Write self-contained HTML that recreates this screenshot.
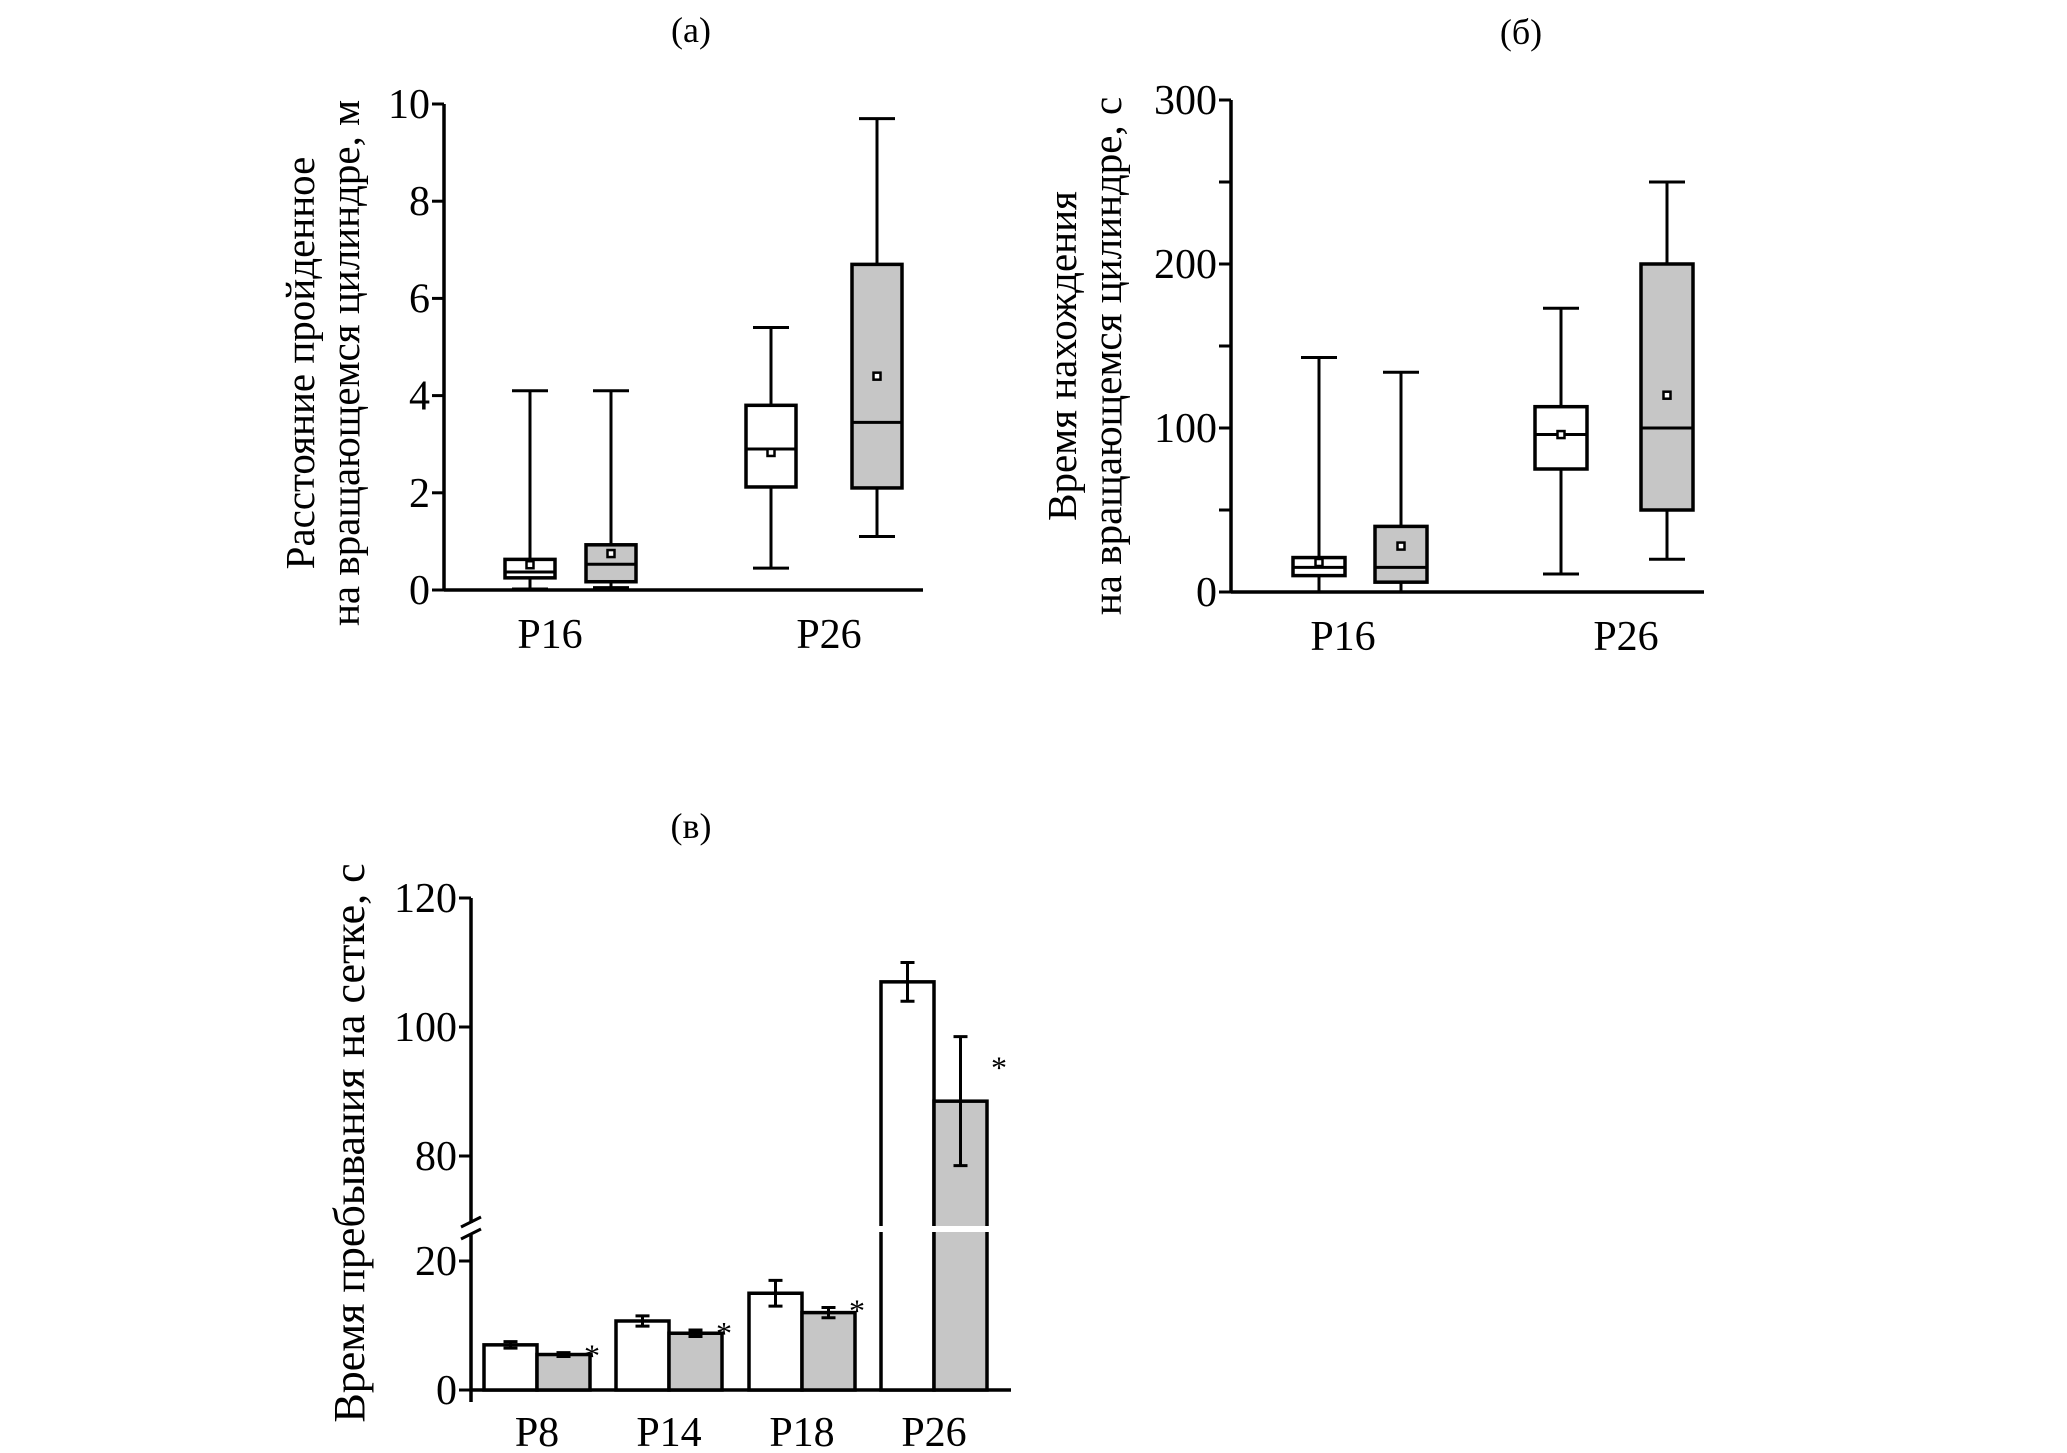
<!DOCTYPE html>
<html><head><meta charset="utf-8">
<style>
html,body{margin:0;padding:0;background:#fff;}
svg{display:block;font-family:"Liberation Serif","DejaVu Serif",serif;}
</style></head>
<body>
<svg id="chart" width="2067" height="1453" viewBox="0 0 2067 1453" xmlns="http://www.w3.org/2000/svg">
<text x="691" y="42" font-size="36" text-anchor="middle">(a)</text>
<text x="1521" y="44" font-size="36" text-anchor="middle">(б)</text>
<text x="691" y="838" font-size="36" text-anchor="middle">(в)</text>
<g id="pa"></g>
<g id="pb"></g>
<g id="pc"></g>
</svg>
<script>
// Panel (a) data
const aCategories = ["P16", "P26"];
const aMin    = [0.02, 0.05, 0.45, 1.1];
const aQ1     = [0.25, 0.17, 2.12, 2.1];
const aMedian = [0.37, 0.53, 2.9, 3.45];
const aQ3     = [0.63, 0.93, 3.8, 6.7];
const aMax    = [4.1, 4.1, 5.4, 9.7];
const aMean   = [0.52, 0.75, 2.83, 4.4];
const aTicks  = [0, 2, 4, 6, 8, 10];
// Panel (б) data
const bCategories = ["P16", "P26"];
const bMin    = [0, 0, 11, 20];
const bQ1     = [10, 6, 75, 50];
const bMedian = [15, 15, 96, 100];
const bQ3     = [21, 40, 113, 200];
const bMax    = [143, 134, 173, 250];
const bMean   = [18, 28, 96, 120];
const bTicks  = [0, 100, 200, 300];
const bMinorTicks = [50, 150, 250];
// Panel (в) data
const cCategories = ["P8", "P14", "P18", "P26"];
const cControl    = [7, 10.7, 15, 107];
const cControlErr = [0.5, 0.8, 2, 3];
const cTreated    = [5.5, 8.8, 12, 88.5];
const cTreatedErr = [0.3, 0.5, 0.8, 10];
const cTicks      = [0, 20, 80, 100, 120];

const NS = "http://www.w3.org/2000/svg";
function mk(parent, tag, attrs, text) {
  const e = document.createElementNS(NS, tag);
  for (const k in attrs) e.setAttribute(k, attrs[k]);
  if (text !== undefined) e.textContent = text;
  parent.appendChild(e);
  return e;
}
const GRAY = "#c6c6c6";
const TICKFS = 42;

function boxPanel(g, cfg, cats, mn, q1, med, q3, mx, mean, ticks, minor) {
  const y = v => cfg.y0 - (v - 0) / cfg.vmax * (cfg.y0 - cfg.yTop);
  let e = mk(g, "line", {x1: cfg.ax, y1: cfg.yTop, x2: cfg.ax, y2: cfg.y0 + 1.5, stroke: "#000", "stroke-width": 3.5});
  
  
  e = mk(g, "line", {x1: cfg.ax, y1: cfg.y0, x2: cfg.axEnd, y2: cfg.y0, stroke: "#000", "stroke-width": 3.5});
  
  
  ticks.forEach(t => {
    const tk = mk(g, "line", {x1: cfg.ax - 12, y1: y(t), x2: cfg.ax, y2: y(t), stroke: "#000", "stroke-width": 3});
    
    
    const tl = mk(g, "text", {x: cfg.ax - 14, y: y(t) + 14, "font-size": TICKFS, "text-anchor": "end"}, String(t));
    
    
  });
  (minor || []).forEach(t => {
    const tk = mk(g, "line", {x1: cfg.ax - 12, y1: y(t), x2: cfg.ax, y2: y(t), stroke: "#000", "stroke-width": 3});
    
    
  });
  for (let i = 0; i < mn.length; i++) {
    const cx = cfg.centers[i], w = cfg.bw;
    const fill = i % 2 ? GRAY : "#fff";
    const bg = mk(g, "g", {});
    
    
    mk(bg, "line", {x1: cx, y1: y(mx[i]), x2: cx, y2: y(q3[i]), stroke: "#000", "stroke-width": 3});
    mk(bg, "line", {x1: cx, y1: y(q1[i]), x2: cx, y2: y(mn[i]), stroke: "#000", "stroke-width": 3});
    mk(bg, "line", {x1: cx - 18, y1: y(mx[i]), x2: cx + 18, y2: y(mx[i]), stroke: "#000", "stroke-width": 3});
    mk(bg, "line", {x1: cx - 18, y1: y(mn[i]), x2: cx + 18, y2: y(mn[i]), stroke: "#000", "stroke-width": 3});
    mk(bg, "rect", {x: cx - w / 2, y: y(q3[i]), width: w, height: y(q1[i]) - y(q3[i]), fill: fill, stroke: "#000", "stroke-width": 3.5});
    mk(bg, "line", {x1: cx - w / 2, y1: y(med[i]), x2: cx + w / 2, y2: y(med[i]), stroke: "#000", "stroke-width": 3});
    mk(bg, "rect", {x: cx - 3.5, y: y(mean[i]) - 3.5, width: 7, height: 7, fill: "#fff", stroke: "#000", "stroke-width": 2.5});
  }
  cats.forEach((c, j) => {
    const t = mk(g, "text", {x: cfg.labelX[j], y: cfg.y0 + 58, "font-size": TICKFS, "text-anchor": "middle"}, c);
    
    
  });
  const tt = mk(g, "text", {transform: `translate(${cfg.titleX},${cfg.titleY}) rotate(-90)`, "font-size": 41, "text-anchor": "middle"});
  
  
  mk(tt, "tspan", {x: 0, y: 0}, cfg.title1);
  mk(tt, "tspan", {x: 0, y: 45}, cfg.title2);
}

boxPanel(document.getElementById("pa"), {
  ax: 444, yTop: 104, y0: 590, axEnd: 923, vmax: 10,
  centers: [530, 611, 771, 877], bw: 50, labelX: [550, 829],
  titleX: 314, titleY: 363,
  title1: "Расстояние пройденное", title2: "на вращающемся цилиндре, м"
}, aCategories, aMin, aQ1, aMedian, aQ3, aMax, aMean, aTicks);

boxPanel(document.getElementById("pb"), {
  ax: 1231, yTop: 100, y0: 592, axEnd: 1704, vmax: 300,
  centers: [1319, 1401, 1561, 1667], bw: 52, labelX: [1343, 1626],
  titleX: 1076, titleY: 356,
  title1: "Время нахождения", title2: "на вращающемся цилиндре, с"
}, bCategories, bMin, bQ1, bMedian, bQ3, bMax, bMean, bTicks, bMinorTicks);

// Panel (в): broken axis
(function () {
  const g = document.getElementById("pc");
  const ax = 471, y0 = 1390, yBreak = 1229, axEnd = 1011;
  const pxPer = 6.45;
  const y = v => v <= 30 ? y0 - v * pxPer : 1156 - (v - 80) * pxPer;
  let e = mk(g, "line", {x1: ax, y1: y(120), x2: ax, y2: yBreak - 6, stroke: "#000", "stroke-width": 3.5});
  
  
  e = mk(g, "line", {x1: ax, y1: yBreak + 6, x2: ax, y2: y0 + 12, stroke: "#000", "stroke-width": 3.5});
  
  
  e = mk(g, "path", {d: `M${ax-10},${yBreak-2} L${ax+10},${yBreak-12} M${ax-10},${yBreak+10} L${ax+10},${yBreak}`, stroke: "#000", "stroke-width": 3, fill: "none"});
  
  
  e = mk(g, "line", {x1: ax, y1: y0, x2: axEnd, y2: y0, stroke: "#000", "stroke-width": 3.5});
  
  
  cTicks.forEach(t => {
    const tk = mk(g, "line", {x1: ax - 12, y1: y(t), x2: ax, y2: y(t), stroke: "#000", "stroke-width": 3});
    
    
    const tl = mk(g, "text", {x: ax - 14, y: y(t) + 14, "font-size": TICKFS, "text-anchor": "end"}, String(t));
    
    
  });
  const groupX = [484, 616, 749, 881];
  const bw = 53;
  cCategories.forEach((c, i) => {
    const gx = groupX[i];
    [[cControl, cControlErr, "#fff", 0], [cTreated, cTreatedErr, GRAY, 1]].forEach(([vals, errs, fill, k]) => {
      const x = gx + k * bw, v = vals[i];
      const bar = mk(g, "rect", {x: x, y: y(v), width: bw, height: y0 - y(v), fill: fill, stroke: "#000", "stroke-width": 3.5});
      
      
      if (v > 30) {
        const gap = mk(g, "rect", {x: x - 4, y: yBreak - 3, width: bw + 8, height: 6, fill: "#fff"});
        
        
      }
      const cx = x + bw / 2, e1 = errs[i];
      const eb = mk(g, "path", {d: `M${cx},${y(v + e1)} L${cx},${y(v - e1)} M${cx-7},${y(v + e1)} L${cx+7},${y(v + e1)} M${cx-7},${y(v - e1)} L${cx+7},${y(v - e1)}`, stroke: "#000", "stroke-width": 3, fill: "none"});
      
      
      if (k === 1) {
        const sy = Math.min(y(v + e1), y(v));
        const st = mk(g, "text", {x: x + bw + (v > 30 ? 4 : -6), y: sy + (v > 30 ? 42 : 14), "font-size": 32}, "*");
        
        
      }
    });
    const lab = mk(g, "text", {x: gx + bw, y: y0 + 56, "font-size": TICKFS, "text-anchor": "middle"}, c);
    
    
  });
  const tt = mk(g, "text", {transform: `translate(364,1143) rotate(-90)`, "font-size": 44, "text-anchor": "middle"}, "Время пребывания на сетке, с");
  
  
})();
</script>
</body></html>
